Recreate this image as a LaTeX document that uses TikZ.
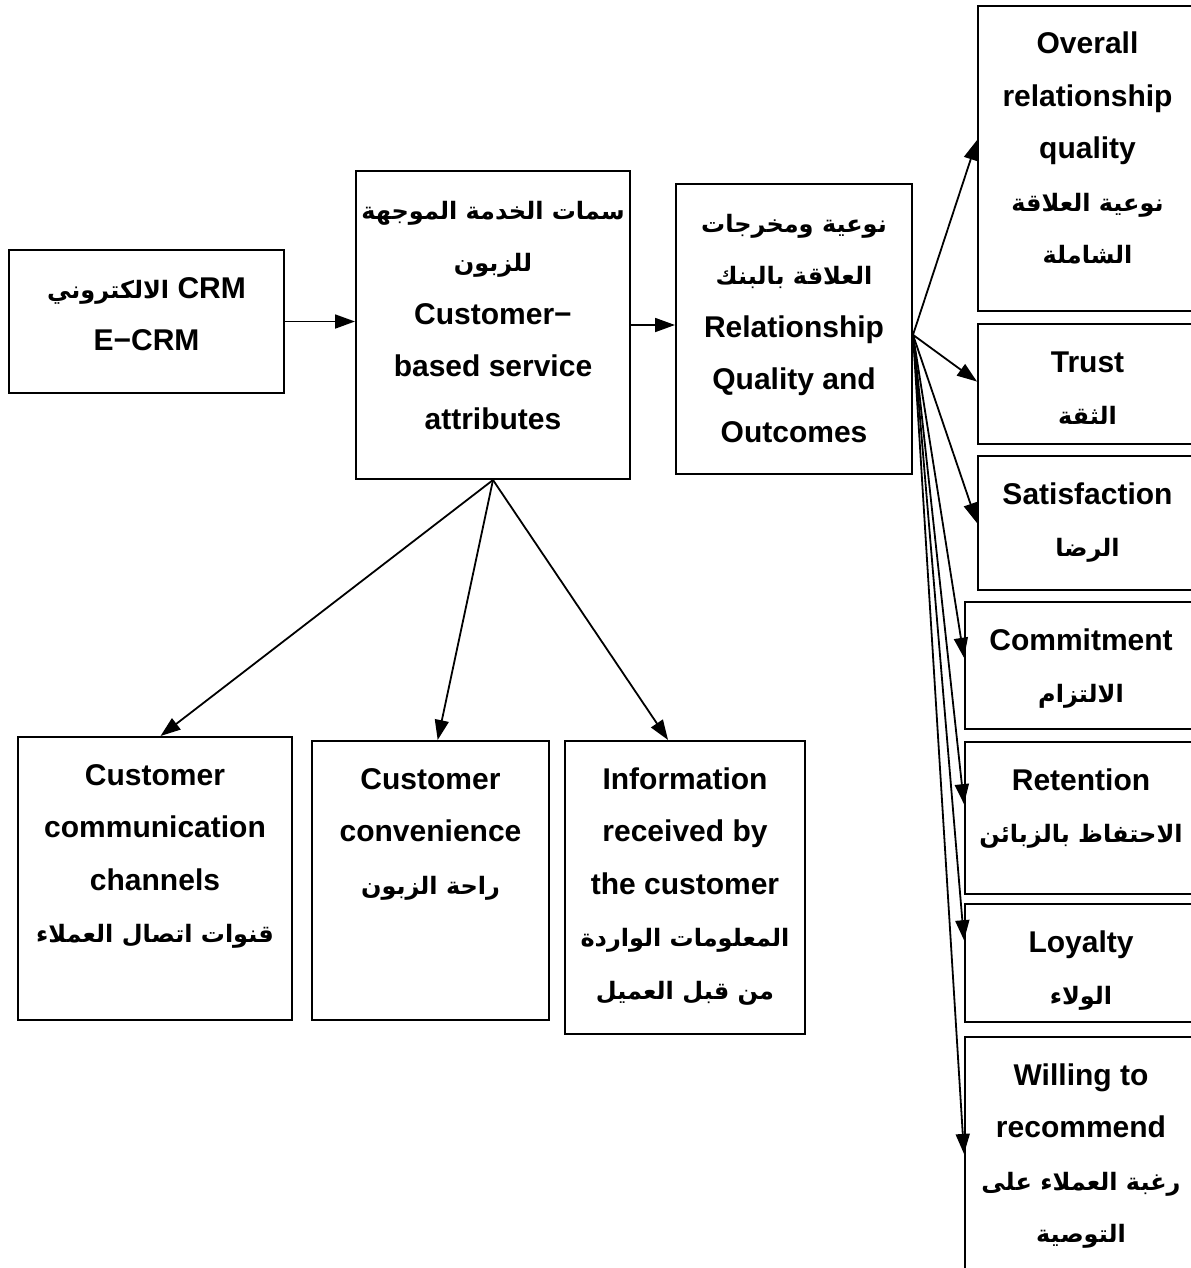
\documentclass[tikz,border=0pt]{standalone}
\usepackage{fontspec}
\setmainfont{Liberation Sans}
\newfontfamily\arabicfont[Script=Arabic,Scale=0.8]{DejaVu Sans}
\TeXXeTstate=1
\usetikzlibrary{arrows.meta,calc}
\newlength\pxu
\setlength\pxu{0.5pt}
\newcommand\ar[1]{\mbox{\arabicfont\beginR #1\endR}}
\newcommand\boxtext[3]{\parbox[t][#2\pxu][t]{#1\pxu}{\centering\rule{0pt}{24pt}#3}}

\begin{document}
\begin{tikzpicture}[x=0.5pt, y=-0.5pt,
		box/.style = {draw, line width=1pt, inner sep=0pt, anchor=north west,
			font=\bfseries\fontsize{15}{26.25}\selectfont},
		link/.style = {line width=0.9pt, -{Triangle[length=10pt, width=7pt]}}]
		\useasboundingbox (0, 0) rectangle (1190, 1268);
		% left and middle boxes
		\node[box] (ecrm) at (8, 249) {\boxtext{275}{143}{\ar{\beginL{\rmfamily CRM}\endL{} الالكتروني}\\E−CRM}};
		\node[box] (service) at (355, 170) {\boxtext{274}{308}{\ar{سمات الخدمة الموجهة}\\\ar{للزبون}\\Customer−\\based service\\attributes}};
		\node[box] (quality) at (675, 183) {\boxtext{236}{290}{\ar{نوعية ومخرجات}\\\ar{العلاقة بالبنك}\\Relationship\\Quality and\\Outcomes}};
		% boxes on the right
		\node[box] (overall) at (977, 5) {\boxtext{219}{305}{Overall\\relationship\\quality\\\ar{نوعية العلاقة}\\\ar{الشاملة}}};
		\node[box] (trust) at (977, 323) {\boxtext{219}{120}{Trust\\\ar{الثقة}}};
		\node[box] (satisf) at (977, 455) {\boxtext{219}{134}{Satisfaction\\\ar{الرضا}}};
		\node[box] (commit) at (964, 601) {\boxtext{232}{127}{Commitment\\\ar{الالتزام}}};
		\node[box] (retent) at (964, 741) {\boxtext{232}{152}{Retention\\\ar{الاحتفاظ بالزبائن}}};
		\node[box] (loyal) at (964, 903) {\boxtext{232}{118}{Loyalty\\\ar{الولاء}}};
		\node[box] (willing) at (964, 1036) {\boxtext{232}{260}{Willing to\\recommend\\\ar{رغبة العملاء على}\\\ar{التوصية}}};
		% boxes at the bottom
		\node[box] (channels) at (17, 736) {\boxtext{274}{283}{Customer\\communication\\channels\\\ar{قنوات اتصال العملاء}}};
		\node[box] (conven) at (311, 740) {\boxtext{237}{279}{Customer\\convenience\\\ar{راحة الزبون}}};
		\node[box] (info) at (564, 740) {\boxtext{240}{293}{Information\\received by\\the customer\\\ar{المعلومات الواردة}\\\ar{من قبل العميل}}};
		% arrows
		\draw[link] (ecrm.east) -- (ecrm.east -| service.west);
		\draw[link] (service.east) -- (service.east -| quality.west);
		\draw[link] (service.south) -- ($(channels.north west)!0.52!(channels.north east)$);
		\draw[link] (service.south) -- ($(conven.north west)!0.53!(conven.north east)$);
		\draw[link] (service.south) -- ($(info.north west)!0.43!(info.north east)$);
		\coordinate (qout) at ($(quality.north east)!0.52!(quality.south east)$);
		\draw[link] (qout) -- ($(overall.north west)!0.44!(overall.south west)$);
		\draw[link] (qout) -- ($(trust.north west)!0.48!(trust.south west)$);
		\draw[link] (qout) -- ($(satisf.north west)!0.5!(satisf.south west)$);
		\draw[link] (qout) -- ($(commit.north west)!0.44!(commit.south west)$);
		\draw[link] (qout) -- ($(retent.north west)!0.41!(retent.south west)$);
		\draw[link] (qout) -- ($(loyal.north west)!0.31!(loyal.south west)$);
		\draw[link] (qout) -- ($(willing.north west)!0.45!(willing.south west)$);
	\end{tikzpicture}
\end{document}
